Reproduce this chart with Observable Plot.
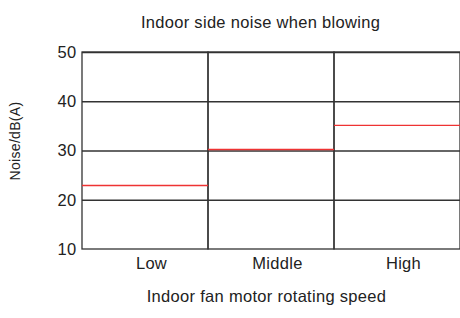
<!DOCTYPE html>
<html>
<head>
<meta charset="utf-8">
<script src="https://cdn.jsdelivr.net/npm/d3@7"></script>
<script src="https://cdn.jsdelivr.net/npm/@observablehq/plot@0.6"></script>
<style>
  html, body { margin: 0; padding: 0; background: #fff; }
  #chart svg { display: block; }
</style>
</head>
<body>
<div id="chart"></div>
<script>
const speeds = ["Low", "Middle", "High"];
const noise = [23, 30.3, 35.2];
const yTicks = [10, 20, 30, 40, 50];
const gridLevels = [20, 30, 40, 50];
const title = "Indoor side noise when blowing";
const xTitle = "Indoor fan motor rotating speed";
const yTitle = "Noise/dB(A)";

const data = speeds.map((s, i) => ({speed: s, noise: noise[i]}));
const ink = "#333";
const font = "'Liberation Sans', Arial, Helvetica, sans-serif";

const chart = Plot.plot({
  width: 460,
  height: 318,
  marginLeft: 82,
  marginRight: 0,
  marginTop: 52,
  marginBottom: 69,
  style: {fontFamily: font, fontSize: "16px", color: "#222", background: "#fff", letterSpacing: "0.3px"},
  x: {type: "band", domain: speeds, padding: 0},
  y: {domain: [10, 50]},
  marks: [
    Plot.ruleY(gridLevels, {stroke: ink, strokeWidth: 1.3}),
    Plot.barY(speeds, {x: d => d, y1: 10, y2: 50, fill: "none", stroke: ink, strokeWidth: 1.3, inset: 0}),
    Plot.tickY(data, {x: "speed", y: "noise", stroke: "#ee3333", strokeWidth: 1.4}),
    Plot.axisY({ticks: yTicks, tickSize: 0, tickPadding: 6, label: null, fontSize: 16.5}),
    Plot.axisX({tickSize: 0, tickPadding: 8, label: null, fontSize: 16.5, dx: 6}),
    Plot.text([title], {frameAnchor: "top", dy: -36, dx: -11, fontSize: 16.5, fill: "#222"}),
    Plot.text([xTitle], {frameAnchor: "bottom", dy: 52, dx: -5, fontSize: 16.5, fill: "#222"}),
    Plot.text([yTitle], {frameAnchor: "left", dx: -67, dy: -10, rotate: -90, textAnchor: "middle", fontSize: 14, fill: "#222"})
  ]
});
document.getElementById("chart").append(chart);
</script>
</body>
</html>
